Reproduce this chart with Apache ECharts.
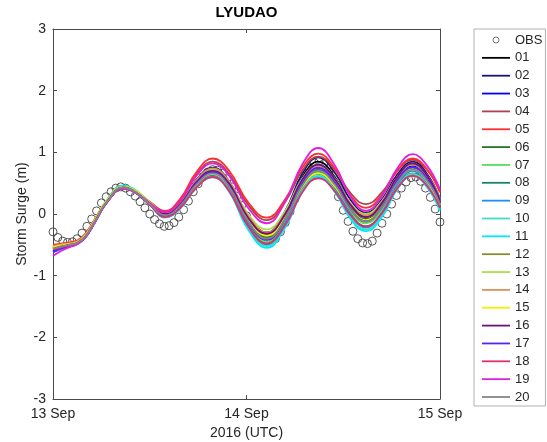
<!DOCTYPE html>
<html>
<head>
<meta charset="utf-8">
<script src="https://cdn.jsdelivr.net/npm/echarts@6/dist/echarts.min.js"></script>
<style>
  html, body { margin: 0; padding: 0; background: #fff; }
  #chart { width: 547px; height: 442px; }
</style>
</head>
<body>
<div id="chart"></div>
<script>
// Storm surge at LYUDAO, 13-15 Sep 2016: observations and 20 model runs.
// Time is measured in hours from 13 Sep 2016 00:00 UTC.
const stationName = 'LYUDAO';
const dateTicks = ['13 Sep', '14 Sep', '15 Sep'];
const tickHours = [0, 24, 48];

// Observed surge (m), sampled every 0.6 h
const obsStepHours = 0.6;
const obsSurge = [
  -0.29, -0.38, -0.44, -0.46, -0.45, -0.40, -0.31, -0.20, -0.08, 0.05,
  0.18, 0.28, 0.36, 0.42, 0.44, 0.42, 0.36, 0.29, 0.20, 0.10,
  0.00, -0.09, -0.16, -0.20, -0.19, -0.14, -0.05, 0.07, 0.21, 0.36,
  0.49, 0.60, 0.68, 0.72, 0.71, 0.66, 0.57, 0.44, 0.29, 0.14,
  -0.03, -0.17, -0.30, -0.39, -0.44, -0.45, -0.40, -0.29, -0.14, 0.04,
  0.24, 0.43, 0.61, 0.74, 0.83, 0.86, 0.82, 0.68, 0.50, 0.28,
  0.06, -0.12, -0.28, -0.40, -0.47, -0.48, -0.44, -0.31, -0.15, 0.00,
  0.16, 0.30, 0.42, 0.52, 0.59, 0.60, 0.53, 0.42, 0.27, 0.08,
  -0.13
];

// Hours at which the model runs are listed
const runHours = [0, 1, 2, 3, 4, 5.2, 6.7, 8.7, 10.3, 12, 13.9, 15.8, 17.8, 19.8,
  21.8, 24.2, 26.5, 28.8, 30.9, 32.9, 35, 36.9, 38.8, 40.8, 42.7, 44.6, 46.3, 48];

// Modelled surge (m) for each run
const run01 = [-0.56, -0.52, -0.50, -0.47, -0.36, -0.12, 0.20, 0.43, 0.35, 0.17, 0.00, 0.17, 0.53, 0.72, 0.51, -0.07, -0.35, -0.01, 0.59, 0.85, 0.59, 0.16, -0.05, 0.17, 0.57, 0.78, 0.61, 0.20];
const run02 = [-0.55, -0.53, -0.50, -0.46, -0.36, -0.11, 0.20, 0.43, 0.35, 0.18, 0.02, 0.19, 0.56, 0.75, 0.54, -0.03, -0.30, 0.05, 0.65, 0.92, 0.66, 0.23, 0.02, 0.24, 0.64, 0.85, 0.67, 0.25];
const run03 = [-0.60, -0.55, -0.52, -0.48, -0.38, -0.13, 0.19, 0.42, 0.34, 0.16, -0.02, 0.15, 0.51, 0.70, 0.48, -0.11, -0.40, -0.06, 0.54, 0.80, 0.54, 0.11, -0.10, 0.13, 0.56, 0.78, 0.61, 0.20];
const run04 = [-0.52, -0.50, -0.48, -0.45, -0.34, -0.10, 0.21, 0.43, 0.36, 0.19, 0.04, 0.23, 0.64, 0.85, 0.66, 0.15, -0.10, 0.20, 0.70, 0.93, 0.71, 0.34, 0.16, 0.35, 0.70, 0.88, 0.73, 0.38];
const run05 = [-0.50, -0.48, -0.46, -0.43, -0.32, -0.08, 0.22, 0.43, 0.36, 0.20, 0.05, 0.25, 0.68, 0.90, 0.71, 0.19, -0.06, 0.24, 0.75, 0.98, 0.73, 0.30, 0.10, 0.31, 0.70, 0.90, 0.74, 0.35];
const run06 = [-0.55, -0.52, -0.50, -0.47, -0.37, -0.12, 0.21, 0.44, 0.36, 0.17, -0.02, 0.14, 0.50, 0.68, 0.47, -0.10, -0.38, -0.06, 0.48, 0.72, 0.49, 0.10, -0.08, 0.13, 0.52, 0.72, 0.56, 0.18];
const run07 = [-0.54, -0.52, -0.49, -0.45, -0.35, -0.10, 0.23, 0.46, 0.38, 0.17, -0.03, 0.12, 0.45, 0.62, 0.41, -0.17, -0.45, -0.13, 0.43, 0.68, 0.44, 0.04, -0.15, 0.07, 0.49, 0.70, 0.54, 0.15];
const run08 = [-0.56, -0.53, -0.50, -0.46, -0.36, -0.11, 0.22, 0.45, 0.37, 0.16, -0.04, 0.11, 0.45, 0.62, 0.40, -0.19, -0.48, -0.16, 0.40, 0.65, 0.41, 0.00, -0.20, 0.02, 0.45, 0.66, 0.50, 0.12];
const run09 = [-0.62, -0.57, -0.53, -0.49, -0.39, -0.14, 0.19, 0.43, 0.35, 0.15, -0.05, 0.11, 0.46, 0.64, 0.41, -0.20, -0.50, -0.16, 0.44, 0.70, 0.44, -0.01, -0.22, 0.02, 0.47, 0.70, 0.52, 0.10];
const run10 = [-0.55, -0.52, -0.49, -0.45, -0.35, -0.10, 0.23, 0.46, 0.38, 0.17, -0.05, 0.10, 0.43, 0.60, 0.38, -0.23, -0.52, -0.19, 0.37, 0.62, 0.37, -0.05, -0.25, -0.02, 0.43, 0.65, 0.48, 0.08];
const run11 = [-0.56, -0.53, -0.50, -0.46, -0.36, -0.11, 0.22, 0.45, 0.37, 0.16, -0.06, 0.09, 0.43, 0.60, 0.37, -0.25, -0.55, -0.22, 0.35, 0.60, 0.35, -0.08, -0.28, -0.05, 0.40, 0.62, 0.45, 0.05];
const run12 = [-0.54, -0.51, -0.49, -0.46, -0.36, -0.11, 0.21, 0.43, 0.36, 0.18, 0.00, 0.16, 0.52, 0.70, 0.49, -0.08, -0.35, -0.04, 0.50, 0.74, 0.51, 0.13, -0.05, 0.16, 0.55, 0.75, 0.59, 0.20];
const run13 = [-0.53, -0.50, -0.48, -0.45, -0.35, -0.10, 0.22, 0.44, 0.37, 0.19, 0.02, 0.18, 0.54, 0.72, 0.53, 0.00, -0.25, 0.05, 0.57, 0.80, 0.57, 0.18, 0.00, 0.21, 0.60, 0.80, 0.63, 0.22];
const run14 = [-0.52, -0.50, -0.48, -0.45, -0.34, -0.10, 0.21, 0.43, 0.36, 0.18, 0.01, 0.18, 0.55, 0.74, 0.53, -0.03, -0.30, 0.01, 0.54, 0.78, 0.55, 0.16, -0.02, 0.19, 0.60, 0.80, 0.64, 0.25];
const run15 = [-0.54, -0.51, -0.49, -0.46, -0.35, -0.10, 0.22, 0.44, 0.37, 0.17, -0.01, 0.14, 0.48, 0.65, 0.45, -0.09, -0.35, -0.06, 0.44, 0.66, 0.44, 0.08, -0.10, 0.11, 0.52, 0.72, 0.55, 0.15];
const run16 = [-0.57, -0.53, -0.50, -0.47, -0.37, -0.12, 0.20, 0.43, 0.35, 0.17, 0.00, 0.16, 0.52, 0.70, 0.50, -0.06, -0.32, 0.00, 0.55, 0.80, 0.56, 0.15, -0.05, 0.18, 0.60, 0.82, 0.64, 0.22];
const run17 = [-0.62, -0.56, -0.52, -0.48, -0.38, -0.13, 0.19, 0.42, 0.34, 0.15, -0.03, 0.13, 0.50, 0.68, 0.46, -0.13, -0.42, -0.08, 0.49, 0.75, 0.50, 0.08, -0.12, 0.11, 0.54, 0.76, 0.59, 0.18];
const run18 = [-0.58, -0.54, -0.51, -0.47, -0.37, -0.13, 0.19, 0.41, 0.34, 0.15, -0.05, 0.10, 0.43, 0.60, 0.38, -0.20, -0.48, -0.18, 0.35, 0.58, 0.36, -0.02, -0.20, 0.01, 0.42, 0.62, 0.47, 0.10];
const run19 = [-0.68, -0.60, -0.54, -0.49, -0.38, -0.13, 0.19, 0.41, 0.34, 0.17, 0.03, 0.21, 0.62, 0.82, 0.63, 0.10, -0.15, 0.20, 0.80, 1.07, 0.78, 0.28, 0.05, 0.29, 0.74, 0.97, 0.80, 0.40];
const run20 = [-0.56, -0.53, -0.50, -0.47, -0.37, -0.12, 0.20, 0.43, 0.35, 0.16, -0.02, 0.14, 0.48, 0.66, 0.45, -0.12, -0.40, -0.08, 0.46, 0.70, 0.47, 0.07, -0.12, 0.10, 0.51, 0.72, 0.56, 0.16];

const runNames = ['01', '02', '03', '04', '05', '06', '07', '08', '09', '10',
  '11', '12', '13', '14', '15', '16', '17', '18', '19', '20'];
const runColors = ['#000000', '#14147a', '#0000ff', '#b0404f', '#ff2e2e',
  '#23782a', '#55e055', '#17866c', '#1e8fff', '#3fe0c0',
  '#00e8ff', '#8a8a30', '#aee04a', '#dd9058', '#f2f200',
  '#6e1080', '#5a20ff', '#e0306a', '#e020e0', '#858585'];
const runValues = [run01, run02, run03, run04, run05, run06, run07, run08, run09, run10,
  run11, run12, run13, run14, run15, run16, run17, run18, run19, run20];

const textColor = '#262626';
const axisColor = '#4a4a4a';
const fontFamily = '"Liberation Sans", Arial, sans-serif';
// thin bar used as the legend key for each model run
const legendLineIcon = 'path://M0,0H28V1.8H0Z';

const obsPoints = obsSurge.map((v, i) => [+(i * obsStepHours).toFixed(2), v]);

const series = [{
  name: 'OBS',
  type: 'scatter',
  symbol: 'circle',
  symbolSize: 8,
  itemStyle: { color: 'rgba(255,255,255,0)', borderColor: '#444444', borderWidth: 0.9, opacity: 1 },
  data: obsPoints,
  z: 1
}];
runValues.forEach((vals, i) => {
  series.push({
    name: runNames[i],
    type: 'line',
    symbol: 'none',
    showSymbol: false,
    smooth: 0.45,
    lineStyle: { color: runColors[i], width: 1.8 },
    itemStyle: { color: runColors[i] },
    data: vals.map((v, k) => [runHours[k], v]),
    z: 2
  });
});

const chart = echarts.init(document.getElementById('chart'), null, { renderer: 'canvas' });
chart.setOption({
  animation: false,
  backgroundColor: '#ffffff',
  textStyle: { fontFamily: fontFamily },
  title: {
    text: stationName,
    left: 246.5,
    top: 5,
    padding: 0,
    textAlign: 'center',
    textStyle: { fontFamily: fontFamily, fontSize: 15, fontWeight: 'bold', color: '#000' }
  },
  grid: { left: 53, right: 107, top: 29, bottom: 43, outerBoundsMode: 'none', containLabel: false },
  legend: {
    orient: 'vertical',
    left: 474,
    top: 29,
    padding: [4, 3, 2, 8],
    itemWidth: 28,
    itemHeight: 6,
    itemGap: 3.85,
    selectedMode: false,
    borderColor: '#a0a0a0',
    borderWidth: 0.8,
    backgroundColor: '#fff',
    textStyle: { fontFamily: fontFamily, fontSize: 13, color: textColor, lineHeight: 14 },
    data: [{ name: 'OBS', icon: 'circle', itemStyle: { color: 'rgba(255,255,255,0)', borderColor: '#555', borderWidth: 0.8 } }]
      .concat(runNames.map(n => ({ name: n, icon: legendLineIcon })))
  },
  xAxis: [{
    type: 'value',
    min: 0, max: 48, interval: 24,
    name: '2016 (UTC)',
    nameLocation: 'middle',
    nameGap: 27,
    nameMoveOverlap: false,
    nameTextStyle: { fontFamily: fontFamily, fontSize: 14, color: textColor },
    axisLine: { show: true, onZero: false, lineStyle: { color: axisColor, width: 1 } },
    axisTick: { show: true, inside: true, length: 4, lineStyle: { color: axisColor } },
    axisLabel: {
      margin: 8, fontSize: 14, color: textColor, fontFamily: fontFamily,
      formatter: v => dateTicks[tickHours.indexOf(v)] || ''
    },
    splitLine: { show: false }
  }, {
    type: 'value',
    position: 'top',
    min: 0, max: 48, interval: 24,
    axisLine: { show: true, onZero: false, lineStyle: { color: axisColor, width: 1 } },
    axisTick: { show: true, inside: true, length: 4, lineStyle: { color: axisColor } },
    axisLabel: { show: false },
    splitLine: { show: false }
  }],
  yAxis: [{
    type: 'value',
    min: -3, max: 3, interval: 1,
    name: 'Storm Surge (m)',
    nameLocation: 'middle',
    nameGap: 24,
    nameRotate: 90,
    nameMoveOverlap: false,
    nameTextStyle: { fontFamily: fontFamily, fontSize: 14, color: textColor },
    axisLine: { show: true, onZero: false, lineStyle: { color: axisColor, width: 1 } },
    axisTick: { show: true, inside: true, length: 4, lineStyle: { color: axisColor } },
    axisLabel: { margin: 7, fontSize: 14, color: textColor, fontFamily: fontFamily },
    splitLine: { show: false }
  }, {
    type: 'value',
    position: 'right',
    min: -3, max: 3, interval: 1,
    axisLine: { show: true, onZero: false, lineStyle: { color: axisColor, width: 1 } },
    axisTick: { show: true, inside: true, length: 4, lineStyle: { color: axisColor } },
    axisLabel: { show: false },
    splitLine: { show: false }
  }],
  series: series
});
</script>
</body>
</html>
